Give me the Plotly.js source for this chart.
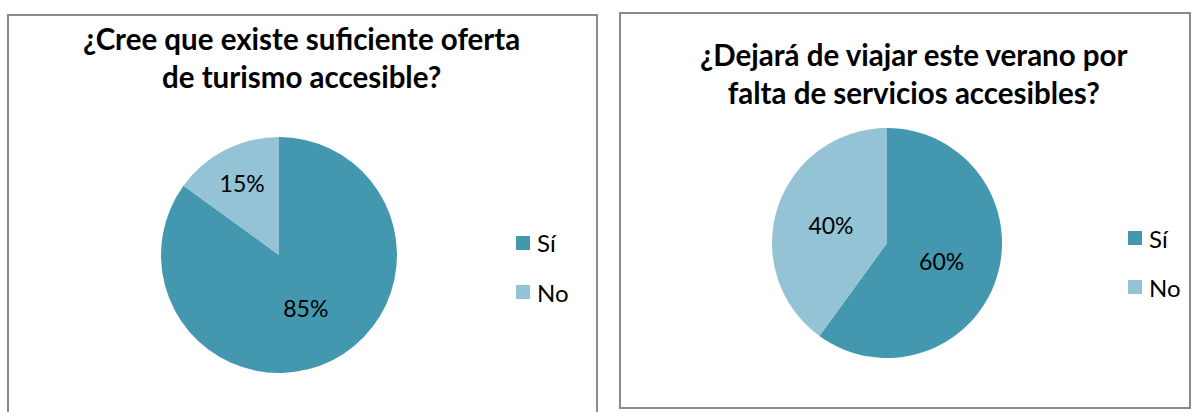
<!DOCTYPE html>
<html>
<head>
<meta charset="utf-8">
<script src="https://cdn.plot.ly/plotly-3.0.1.min.js"></script>
<style>html,body{margin:0;padding:0;background:#fff;}#chart{width:1196px;height:412px;}</style>
</head>
<body>
<div id="chart"></div>
<script>
// Data
const categories = ["Sí", "No"];
const colors = ["#4398B0", "#93C3D5"];
const offerValues = [85, 15];
const travelValues = [60, 40];
const titleOffer = "¿Cree que existe suficiente oferta<br>de turismo accesible?";
const titleTravel = "¿Dejará de viajar este verano por<br>falta de servicios accesibles?";

const W = 1196, H = 412;
const px = x => x / W;
const py = y => 1 - y / H;
const FONT = "Lato, 'Open Sans', sans-serif";

function pieTrace(values, cx, cy, r) {
  return {
    type: "pie",
    labels: categories,
    values: values,
    marker: { colors: colors, line: { width: 0 } },
    sort: false,
    direction: "clockwise",
    rotation: 0,
    textinfo: "percent",
    texttemplate: "%{percent:.0%}",
    textposition: "inside",
    insidetextorientation: "horizontal",
    textfont: { family: FONT, size: 23, color: "#000" },
    hoverinfo: "label+percent",
    showlegend: false,
    domain: { x: [px(cx - r), px(cx + r)], y: [py(cy + r), py(cy - r)] }
  };
}

const traces = [
  pieTrace(offerValues, 279, 255, 118),
  pieTrace(travelValues, 887, 243, 115)
];

const shapes = [
  { type: "rect", xref: "paper", yref: "paper", x0: px(8), x1: px(597), y0: py(425), y1: py(15),
    line: { color: "#8A8A8A", width: 2 }, fillcolor: "rgba(0,0,0,0)" },
  { type: "rect", xref: "paper", yref: "paper", x0: px(620), x1: px(1190), y0: py(408), y1: py(13),
    line: { color: "#8A8A8A", width: 2 }, fillcolor: "rgba(0,0,0,0)" }
];

const annotations = [
  { text: "<b>" + titleOffer + "</b>", x: px(301), y: py(58), xref: "paper", yref: "paper",
    showarrow: false, xanchor: "center", yanchor: "middle", font: { family: FONT, size: 29.5, color: "#000" } },
  { text: "<b>" + titleTravel + "</b>", x: px(914), y: py(73), xref: "paper", yref: "paper",
    showarrow: false, xanchor: "center", yanchor: "middle", font: { family: FONT, size: 29.5, color: "#000" } }
];

// Legends (built from categories and colors)
function addLegend(xSq, yList) {
  categories.forEach((c, i) => {
    const y = yList[i];
    shapes.push({ type: "rect", xref: "paper", yref: "paper",
      x0: px(xSq), x1: px(xSq + 14), y0: py(y + 7), y1: py(y - 7),
      line: { width: 0 }, fillcolor: colors[i] });
    annotations.push({ text: c, x: px(xSq + 19), y: py(y), xref: "paper", yref: "paper",
      showarrow: false, xanchor: "left", yanchor: "middle",
      font: { family: FONT, size: 24, color: "#000" } });
  });
}
addLegend(516, [243, 292]);
addLegend(1128, [238, 287]);

const layout = {
  width: W, height: H,
  margin: { l: 0, r: 0, t: 0, b: 0 },
  paper_bgcolor: "#fff",
  showlegend: false,
  shapes: shapes,
  annotations: annotations
};

Plotly.newPlot("chart", traces, layout, { displayModeBar: false, staticPlot: true });
</script>
</body>
</html>
